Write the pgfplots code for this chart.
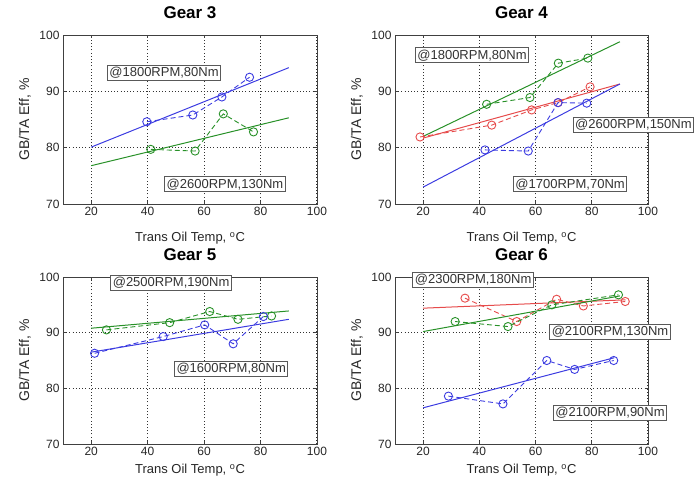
\documentclass[border=0pt]{standalone}
\usepackage{pgfplots}
\pgfplotsset{compat=1.18}
\usepackage{fontspec}
\setmainfont{Liberation Sans}
\definecolor{mblue}{RGB}{60,60,225}
\definecolor{mgreen}{RGB}{40,145,40}
\definecolor{mred}{RGB}{230,75,75}
\tikzset{anno/.style={draw=black!65, line width=1pt, fill=white, inner sep=2pt, font=\fontsize{13}{13}\selectfont, text=black!80}}
\pgfplotsset{
  gearax/.style={
    scale only axis, anchor=south west,
    xmin=10, xmax=100, ymin=70, ymax=100,
    xtick={20,40,...,100}, ytick={70,80,90,100},
    grid=major,
    major grid style={black!80, line width=1pt, dash pattern=on 1pt off 2.2pt},
    axis line style={black!75, line width=0.9pt},
    tick style={black!75, line width=0.6pt},
    major tick length=3pt,
    tick label style={font=\fontsize{12}{12}\selectfont, text=black!85},
    /pgf/number format/assume math mode=true,
    xlabel={Trans Oil Temp, \textsuperscript{o}C},
    ylabel={GB/TA Eff, \%},
    label style={font=\fontsize{13}{13}\selectfont, text=black!85},
    ylabel style={at={(axis description cs:-0.15,0.5)}, anchor=center, font=\fontsize{14}{14}\selectfont},
    title style={at={(axis description cs:0.5,1)}, anchor=base, yshift=11pt, font=\bfseries\fontsize{17}{17}\selectfont},
    clip mode=individual,
  },
  toprow/.style={xlabel style={at={(axis description cs:0.5,0)}, anchor=center, yshift=-34pt}},
  botrow/.style={xlabel style={at={(axis description cs:0.5,0)}, anchor=center, yshift=-26pt}},
  dat/.style={dash pattern=on 5pt off 3pt, line width=0.9pt, mark=o, mark size=4.1pt, mark options={solid}},
  trd/.style={line width=1pt, no marks},
}
\begin{document}
\begin{tikzpicture}[x=1pt,y=1pt]
\useasboundingbox (0,0) rectangle (695,488);
% Gear 3
\begin{axis}[gearax, toprow, at={(63pt,284pt)}, width=254pt, height=169pt, title={Gear 3}]
\addplot[mblue, dat] coordinates {(39.7,84.6) (56,85.8) (66.3,89) (76.1,92.5)};
\addplot[mblue, trd] coordinates {(20,80.1) (90,94.2)};
\addplot[mgreen, dat] coordinates {(41.1,79.7) (56.8,79.4) (66.8,86) (77.5,82.8)};
\addplot[mgreen, trd] coordinates {(20,76.8) (90,85.3)};
\node[anno] at (axis cs:45.8,93.25) {@1800RPM,80Nm};
\node[anno] at (axis cs:67.4,73.5) {@2600RPM,130Nm};
\end{axis}
% Gear 4
\begin{axis}[gearax, toprow, at={(395pt,284pt)}, width=253pt, height=169pt, title={Gear 4}]
\addplot[mgreen, dat] coordinates {(42.6,87.7) (58,88.9) (68.1,95) (78.6,95.9)};
\addplot[mgreen, trd] coordinates {(20,82) (90,98.8)};
\addplot[mred, dat] coordinates {(18.9,81.9) (44.4,84) (58.6,86.7) (68,88) (79.4,90.8)};
\addplot[mred, trd] coordinates {(20,81.7) (90,91.3)};
\addplot[mblue, dat] coordinates {(42,79.6) (57.4,79.4) (68,88) (78.2,87.9)};
\addplot[mblue, trd] coordinates {(20,73) (90,91.3)};
\node[anno] at (axis cs:37.4,96.4) {@1800RPM,80Nm};
\node[anno, anchor=west] at (axis cs:73.2,84) {@2600RPM,150Nm};
\node[anno] at (axis cs:72.3,73.5) {@1700RPM,70Nm};
\end{axis}
% Gear 5
\begin{axis}[gearax, botrow, at={(63pt,44pt)}, width=254pt, height=167pt, title={Gear 5}]
\addplot[mgreen, dat] coordinates {(25.4,90.5) (47.8,91.8) (62,93.8) (72,92.4) (83.9,93)};
\addplot[mgreen, trd] coordinates {(20,90.8) (90,93.9)};
\addplot[mblue, dat] coordinates {(21.2,86.3) (45.5,89.3) (60.2,91.4) (70.3,88) (81,92.9)};
\addplot[mblue, trd] coordinates {(20,86.5) (90,92.4)};
\node[anno] at (axis cs:48.3,98.9) {@2500RPM,190Nm};
\node[anno] at (axis cs:69.6,83.5) {@1600RPM,80Nm};
\end{axis}
% Gear 6
\begin{axis}[gearax, botrow, at={(395pt,44pt)}, width=253pt, height=167pt, title={Gear 6}]
\addplot[mred, dat] coordinates {(34.9,96.2) (53.3,92) (67.5,96) (77,94.8) (91.9,95.6)};
\addplot[mred, trd] coordinates {(20,94.4) (92,95.9)};
\addplot[mgreen, dat] coordinates {(31.4,92) (50.2,91.1) (65.8,95) (89.5,96.8)};
\addplot[mgreen, trd] coordinates {(20,90.2) (90,96.6)};
\addplot[mblue, dat] coordinates {(29,78.6) (48.4,77.2) (64,85) (73.9,83.4) (87.8,85)};
\addplot[mblue, trd] coordinates {(20,76.5) (88,85.5)};
\node[anno] at (axis cs:37.8,99.5) {@2300RPM,180Nm};
\node[anno] at (axis cs:86.5,90.1) {@2100RPM,130Nm};
\node[anno] at (axis cs:86.5,75.6) {@2100RPM,90Nm};
\end{axis}
\end{tikzpicture}
\end{document}
